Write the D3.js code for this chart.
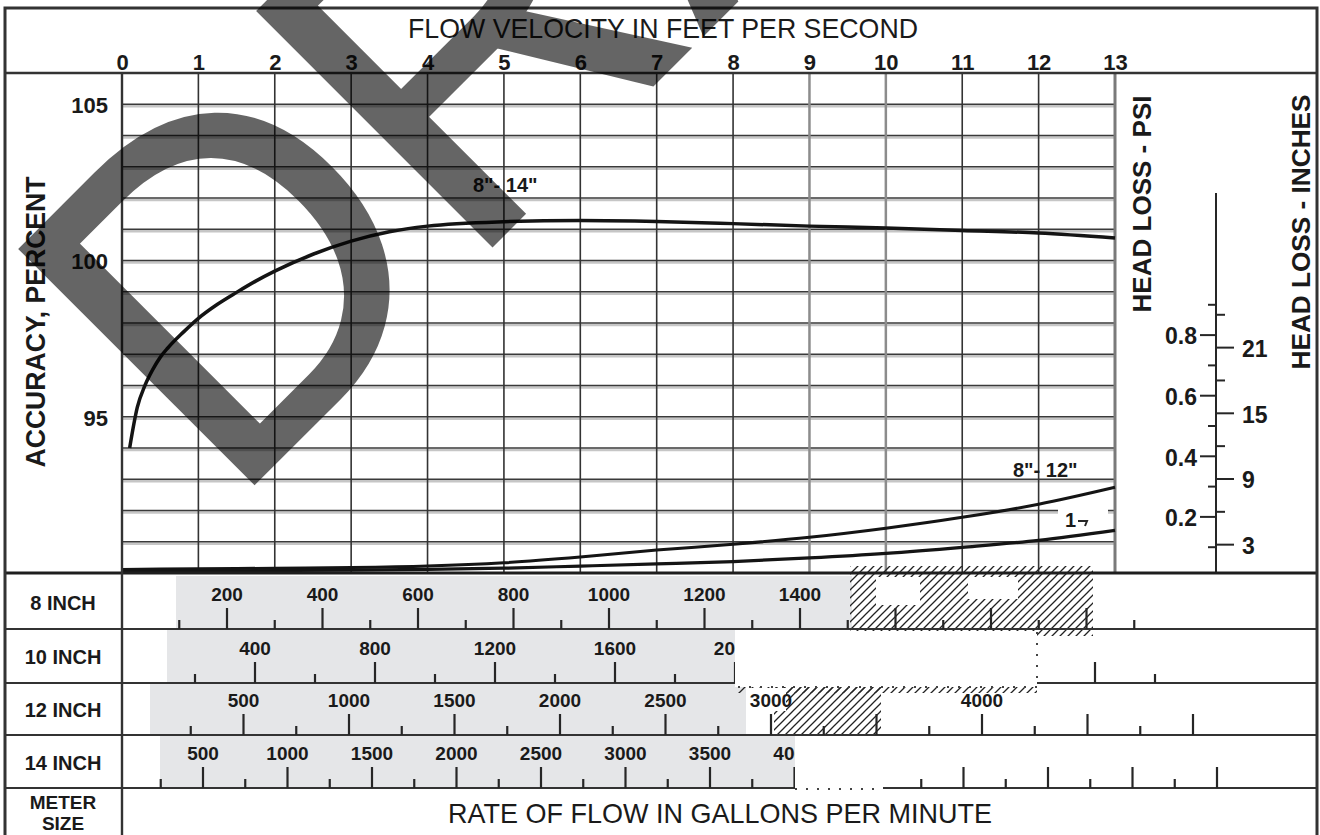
<!DOCTYPE html>
<html>
<head>
<meta charset="utf-8">
<script src="https://cdn.jsdelivr.net/npm/d3@7"></script>
<style>
  body { margin: 0; background: #fff; }
  svg { display: block; }
  text { font-family: "Liberation Sans", Arial, sans-serif; fill: #1a1a1a; }
</style>
</head>
<body>
<svg id="chart" width="1320" height="835"></svg>
<script>
// ---- data ----
const velocityTicks = [0, 1, 2, 3, 4, 5, 6, 7, 8, 9, 10, 11, 12, 13];
const accuracyGrid = [91, 92, 93, 94, 95, 96, 97, 98, 99, 100, 101, 102, 103, 104, 105];
const accuracyLabels = [95, 100, 105];

// accuracy curve, 8"-14"
const accVelocity = [0.1, 0.2, 0.3, 0.4, 0.5, 0.6, 0.8, 1, 1.25, 1.5, 1.75, 2, 2.5, 3, 3.5, 4, 5, 6, 7, 8, 9, 10, 11, 12, 13];
const accPercent = [94.0, 95.3, 96.0, 96.5, 96.9, 97.2, 97.7, 98.15, 98.6, 98.98, 99.34, 99.66, 100.2, 100.62, 100.92, 101.1, 101.24, 101.28, 101.25, 101.18, 101.1, 101.04, 100.96, 100.88, 100.72];

// head loss curves (psi)
const lossVelocity = [0, 1, 2, 3, 4, 5, 6, 7, 8, 9, 10, 11, 12, 13];
const loss8to12 = [0.025, 0.027, 0.029, 0.031, 0.036, 0.047, 0.066, 0.089, 0.108, 0.131, 0.161, 0.197, 0.240, 0.296];
const loss14 = [0.019, 0.020, 0.021, 0.023, 0.025, 0.029, 0.036, 0.043, 0.051, 0.063, 0.078, 0.098, 0.121, 0.154];

const psiLabels = [0.2, 0.4, 0.6, 0.8];
const psiMinor = [0.1, 0.3, 0.5, 0.7, 0.9];
const inchLabels = [3, 9, 15, 21];
const inchMinor = [6, 12, 18, 24];

// rate of flow rows
const meterSizes = ["8 INCH", "10 INCH", "12 INCH", "14 INCH"];
const gpm8Labels = [200, 400, 600, 800, 1000, 1200, 1400];
const gpm8Major = [200, 400, 600, 800, 1000, 1200, 1400, 1600, 1800, 2000];
const gpm8Minor = [100, 300, 500, 700, 900, 1100, 1300, 1500, 1700, 1900, 2100];
const gpm10Labels = [400, 800, 1200, 1600, 2000];
const gpm10Major = [400, 800, 1200, 1600, 2000, 2400, 2800, 3200];
const gpm10Minor = [200, 600, 1000, 1400, 1800, 2200, 2600, 3000, 3400];
const gpm12Labels = [500, 1000, 1500, 2000, 2500, 3000, 4000];
const gpm12Major = [500, 1000, 1500, 2000, 2500, 3000, 3500, 4000, 4500, 5000];
const gpm12Minor = [250, 750, 1250, 1750, 2250, 2750, 3250, 3750, 4250, 4750];
const gpm14Labels = [500, 1000, 1500, 2000, 2500, 3000, 3500, 4000];
const gpm14Major = [500, 1000, 1500, 2000, 2500, 3000, 3500, 4000, 4500, 5000, 5500, 6000, 6500];
const gpm14Minor = [250, 750, 1250, 1750, 2250, 2750, 3250, 3750, 4250, 4750, 5250, 5750, 6250];

// ---- drawing ----
const svg = d3.select("#chart");
const ink = "#262626";

const plotLeft = 122, plotRight = 1115, plotTop = 73, plotBottom = 573;

const x = d3.scaleLinear().domain([0, 13]).range([plotLeft, plotRight]);
const y = d3.scaleLinear().domain([90, 106]).range([plotBottom, plotTop]);
const psi = d3.scaleLinear().domain([0, 1]).range([577, 274]);
const inch = d3.scaleLinear().domain([0, 27.68]).range([577, 274]);

// hatch pattern
const defs = svg.append("defs");
defs.append("pattern")
    .attr("id", "hatch")
    .attr("patternUnits", "userSpaceOnUse")
    .attr("width", 8).attr("height", 8)
  .append("path")
    .attr("d", "M-2,2 l4,-4 M0,8 l8,-8 M6,10 l4,-4")
    .attr("stroke", "#222")
    .attr("stroke-width", 1.3);

// horizontal grid
let grid = svg.append("g");
grid.selectAll("line.hg-shadow").data(accuracyGrid).enter().append("line")
    .attr("class", "hg-shadow")
    .attr("x1", plotLeft).attr("x2", plotRight)
    .attr("y1", d => y(d) + 2).attr("y2", d => y(d) + 2)
    .attr("stroke", "#c6c6c6").attr("stroke-width", 2.5);
grid.selectAll("line.hg").data(accuracyGrid).enter().append("line")
    .attr("class", "hg")
    .attr("x1", plotLeft).attr("x2", plotRight)
    .attr("y1", d => y(d)).attr("y2", d => y(d))
    .attr("stroke", "#3a3a3a").attr("stroke-width", 1.5);

// vertical grid
grid.selectAll("line.vg").data(velocityTicks).enter().append("line")
    .attr("class", "vg")
    .attr("x1", d => x(d)).attr("x2", d => x(d))
    .attr("y1", plotTop).attr("y2", plotBottom)
    .attr("stroke", d => (d === 9 || d === 10) ? "#8c8c8c" : d === 13 ? "#7a7a7a" : "#333")
    .attr("stroke-width", d => d === 13 ? 3 : (d === 9 || d === 10) ? 2.5 : 1.6);

// top velocity axis labels
let topAxis = svg.append("g")
    .attr("transform", "translate(0,70)")
    .call(d3.axisTop(x).tickValues(velocityTicks).tickSize(0).tickPadding(0));
topAxis.select(".domain").remove();
topAxis.selectAll("text")
    .attr("font-size", 22).attr("font-weight", "bold")
    .attr("font-family", "Liberation Sans, Arial, sans-serif").attr("fill", ink);

// accuracy axis labels
let accAxis = svg.append("g")
    .attr("transform", "translate(108,0)")
    .call(d3.axisLeft(y).tickValues(accuracyLabels).tickSize(0).tickPadding(0));
accAxis.select(".domain").remove();
accAxis.selectAll("text")
    .attr("font-size", 22).attr("font-weight", "bold").attr("dy", "0.38em")
    .attr("font-family", "Liberation Sans, Arial, sans-serif").attr("fill", ink);

// white knock-out behind the cut 14" label
svg.append("rect").attr("x", 1058).attr("y", 506).attr("width", 50).attr("height", 20).attr("fill", "#fff");

// curves
const accLine = d3.line().x(d => x(d[0])).y(d => y(d[1])).curve(d3.curveMonotoneX);
svg.append("path")
    .datum(d3.zip(accVelocity, accPercent))
    .attr("d", accLine)
    .attr("fill", "none").attr("stroke", "#141414").attr("stroke-width", 3.5);

const lossLine = d3.line().x(d => x(d[0])).y(d => psi(d[1])).curve(d3.curveMonotoneX);
svg.append("path")
    .datum(d3.zip(lossVelocity, loss8to12))
    .attr("d", lossLine)
    .attr("fill", "none").attr("stroke", "#141414").attr("stroke-width", 3);
svg.append("path")
    .datum(d3.zip(lossVelocity, loss14))
    .attr("d", lossLine)
    .attr("fill", "none").attr("stroke", "#141414").attr("stroke-width", 3.2);

// curve labels
svg.append("text").attr("x", 473).attr("y", 192).attr("font-size", 20).attr("font-weight", "bold").text("8\"- 14\"");
svg.append("text").attr("x", 1013).attr("y", 477).attr("font-size", 20).attr("font-weight", "bold").text("8\"- 12\"");
svg.append("text").attr("x", 1065).attr("y", 527).attr("font-size", 20).attr("font-weight", "bold").text("1");
svg.append("path").attr("d", "M1078,521 h9 l-2,5").attr("fill", "none").attr("stroke", ink).attr("stroke-width", 2);

// head loss axis
svg.append("line").attr("x1", 1216).attr("x2", 1216).attr("y1", 193).attr("y2", plotBottom)
    .attr("stroke", ink).attr("stroke-width", 2);
let psiAxis = svg.append("g").attr("transform", "translate(1216,0)")
    .call(d3.axisLeft(psi).tickValues(psiLabels).tickSize(16).tickPadding(3).tickFormat(d3.format(".1f")));
let psiMinorAxis = svg.append("g").attr("transform", "translate(1216,0)")
    .call(d3.axisLeft(psi).tickValues(psiMinor).tickSize(8).tickFormat(""));
let inchAxis = svg.append("g").attr("transform", "translate(1216,0)")
    .call(d3.axisRight(inch).tickValues(inchLabels).tickSize(18).tickPadding(8));
let inchMinorAxis = svg.append("g").attr("transform", "translate(1216,0)")
    .call(d3.axisRight(inch).tickValues(inchMinor).tickSize(9).tickFormat(""));
[psiAxis, psiMinorAxis, inchAxis, inchMinorAxis].forEach(a => {
    a.select(".domain").remove();
    a.selectAll("line").attr("stroke", ink).attr("stroke-width", 2);
    a.selectAll("text")
        .attr("font-size", 23).attr("font-weight", "bold").attr("dy", "0.4em")
        .attr("font-family", "Liberation Sans, Arial, sans-serif").attr("fill", ink);
});

// rotated axis titles
function vtext(cx, cy, str, size, len, weight) {
    svg.append("text")
        .attr("transform", "translate(" + cx + "," + cy + ") rotate(-90)")
        .attr("text-anchor", "middle")
        .attr("font-size", size)
        .attr("font-weight", weight)
        .attr("textLength", len).attr("lengthAdjust", "spacingAndGlyphs")
        .text(str);
}
vtext(45, 322, "ACCURACY, PERCENT", 28, 291, "bold");
vtext(1151, 204, "HEAD LOSS - PSI", 25, 217, "bold");
vtext(1310, 232, "HEAD LOSS - INCHES", 25, 275, "bold");

// titles
svg.append("text").attr("x", 663).attr("y", 38).attr("text-anchor", "middle")
    .attr("font-size", 28).attr("textLength", 510).attr("lengthAdjust", "spacingAndGlyphs")
    .text("FLOW VELOCITY IN FEET PER SECOND");
svg.append("text").attr("x", 720).attr("y", 823).attr("text-anchor", "middle")
    .attr("font-size", 28).attr("textLength", 544).attr("lengthAdjust", "spacingAndGlyphs")
    .text("RATE OF FLOW IN GALLONS PER MINUTE");

// ---- meter rows ----
const rows = [
    { name: meterSizes[0], labels: gpm8Labels, major: gpm8Major, minor: gpm8Minor,
      scale: d3.scaleLinear().domain([0, 2000]).range([131.5, 1086.5]), rowTop: 575, rowBottom: 629, shade: [176, 852] },
    { name: meterSizes[1], labels: gpm10Labels, major: gpm10Major, minor: gpm10Minor,
      scale: d3.scaleLinear().domain([0, 3200]).range([135, 1095]), rowTop: 629, rowBottom: 683, shade: [167, 735] },
    { name: meterSizes[2], labels: gpm12Labels, major: gpm12Major, minor: gpm12Minor,
      scale: d3.scaleLinear().domain([0, 5000]).range([138, 1193]), rowTop: 683, rowBottom: 735, shade: [150, 746] },
    { name: meterSizes[3], labels: gpm14Labels, major: gpm14Major, minor: gpm14Minor,
      scale: d3.scaleLinear().domain([0, 6500]).range([118.5, 1217]), rowTop: 735, rowBottom: 788, shade: [160, 795] }
];

let rowG = svg.append("g");
rows.forEach(r => {
    rowG.append("rect")
        .attr("x", r.shade[0]).attr("y", r.rowTop + 1)
        .attr("width", r.shade[1] - r.shade[0]).attr("height", r.rowBottom - r.rowTop - 1)
        .attr("fill", "#e5e6e8");
});

// hatched areas
svg.append("rect").attr("x", 850).attr("y", 566).attr("width", 243).attr("height", 70).attr("fill", "url(#hatch)");
svg.append("rect").attr("x", 876).attr("y", 577).attr("width", 44).attr("height", 28).attr("fill", "#fff");
svg.append("rect").attr("x", 968).attr("y", 577).attr("width", 50).attr("height", 22).attr("fill", "#fff");
svg.append("rect").attr("x", 738).attr("y", 684).attr("width", 299).attr("height", 9).attr("fill", "url(#hatch)");
svg.append("rect").attr("x", 774).attr("y", 684).attr("width", 107).attr("height", 51).attr("fill", "url(#hatch)");
svg.append("rect").attr("x", 746).attr("y", 688).attr("width", 40).attr("height", 23).attr("fill", "#fff");

// row lines
const rowLines = [629, 683, 735, 788];
svg.selectAll("line.row").data(rowLines).enter().append("line")
    .attr("class", "row")
    .attr("x1", 5).attr("x2", 1318)
    .attr("y1", d => d).attr("y2", d => d)
    .attr("stroke", "#333").attr("stroke-width", 2.2);

rows.forEach(r => {
    let g = svg.append("g");
    g.selectAll("line.maj").data(r.major).enter().append("line")
        .attr("x1", d => r.scale(d)).attr("x2", d => r.scale(d))
        .attr("y1", r.rowBottom).attr("y2", r.rowBottom - 21)
        .attr("stroke", ink).attr("stroke-width", 2.2);
    g.selectAll("line.min").data(r.minor).enter().append("line")
        .attr("x1", d => r.scale(d)).attr("x2", d => r.scale(d))
        .attr("y1", r.rowBottom).attr("y2", r.rowBottom - 9)
        .attr("stroke", ink).attr("stroke-width", 2.2);
    g.selectAll("text").data(r.labels).enter().append("text")
        .attr("x", d => r.scale(d)).attr("y", r.rowBottom - 28)
        .attr("text-anchor", "middle")
        .attr("font-size", 19).attr("font-weight", "bold")
        .text(d => d);
    svg.append("text")
        .attr("x", 63).attr("y", (r.rowTop + r.rowBottom) / 2 + 8)
        .attr("text-anchor", "middle")
        .attr("font-size", 20).attr("font-weight", "bold")
        .text(r.name);
});

// white boxes that cover parts of the 10" and 14" scales
svg.append("rect").attr("x", 735).attr("y", 631).attr("width", 302).attr("height", 56).attr("fill", "#fff");
svg.append("path").attr("d", "M1037,632 V687 H736").attr("fill", "none")
    .attr("stroke", "#444").attr("stroke-width", 2).attr("stroke-dasharray", "2,9");
svg.append("rect").attr("x", 795).attr("y", 737).attr("width", 88).attr("height", 52).attr("fill", "#fff");
svg.append("path").attr("d", "M795,789 H883").attr("fill", "none")
    .attr("stroke", "#444").attr("stroke-width", 2).attr("stroke-dasharray", "2,9");

svg.append("text").attr("x", 63).attr("y", 809).attr("text-anchor", "middle")
    .attr("font-size", 19).attr("font-weight", "bold").text("METER");
svg.append("text").attr("x", 63).attr("y", 830).attr("text-anchor", "middle")
    .attr("font-size", 19).attr("font-weight", "bold").text("SIZE");

// frame lines
svg.append("line").attr("x1", 5).attr("x2", 1318).attr("y1", plotBottom).attr("y2", plotBottom)
    .attr("stroke", "#1e1e1e").attr("stroke-width", 3.2);
svg.append("line").attr("x1", 5).attr("x2", 1318).attr("y1", plotTop).attr("y2", plotTop)
    .attr("stroke", "#333").attr("stroke-width", 2.4);
svg.append("line").attr("x1", plotLeft).attr("x2", plotLeft).attr("y1", plotTop).attr("y2", 835)
    .attr("stroke", "#333").attr("stroke-width", 2.4);
svg.append("rect").attr("x", 5).attr("y", 8).attr("width", 1312).attr("height", 840)
    .attr("fill", "none").attr("stroke", "#333").attr("stroke-width", 3);

// watermark
svg.append("g")
    .attr("opacity", 0.6)
  .append("text")
    .attr("transform", "translate(227.5,509.5) rotate(-45) scale(1,1.03)")
    .attr("font-size", 466)
    .attr("font-family", "Liberation Sans, Arial, sans-serif")
    .attr("stroke", "#000").attr("stroke-width", 4).attr("stroke-linejoin", "miter")
    .style("fill", "#000")
    .text("DRAFT");
</script>
</body>
</html>
